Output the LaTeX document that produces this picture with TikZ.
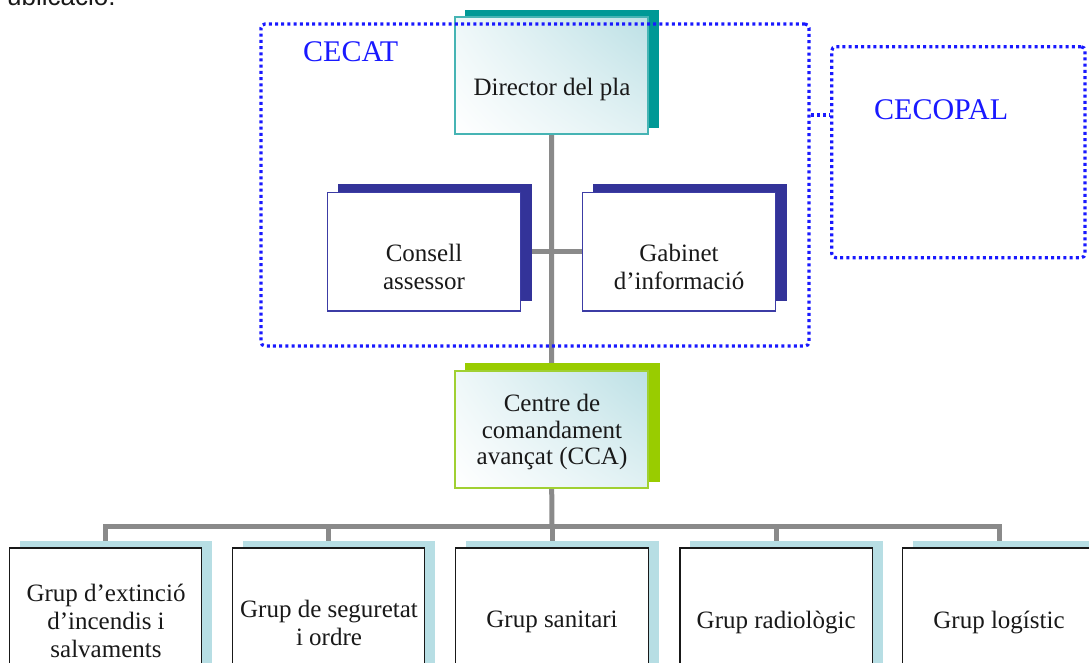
\documentclass[tikz,border=0pt]{standalone}
\usepackage{fontspec}
\setmainfont{Liberation Serif}
\newfontfamily\sansf{Liberation Sans}
\usetikzlibrary{calc,shadings}
\definecolor{cgray}{RGB}{138,138,138}
\definecolor{cblue}{RGB}{25,25,255}
\definecolor{tealsh}{RGB}{0,153,150}
\definecolor{tealbd}{RGB}{70,180,180}
\definecolor{navysh}{RGB}{51,51,153}
\definecolor{navybd}{RGB}{60,60,165}
\definecolor{greensh}{RGB}{153,204,0}
\definecolor{greenbd}{RGB}{160,208,50}
\definecolor{ltbluesh}{RGB}{183,222,228}
\definecolor{grad}{RGB}{188,224,229}
\definecolor{ctext}{RGB}{25,25,25}
\pgfdeclarelayer{connl}
\pgfdeclarelayer{shadl}
\pgfsetlayers{connl,shadl,main}
\begin{document}
\begin{tikzpicture}[x=1pt,y=-1pt,
  conn/.style={draw=cgray, line width=5pt},
  dotbox/.style={draw=cblue, line width=3.2pt, dash pattern=on 3pt off 3.2pt, rounded corners=4pt, rectangle, inner sep=0pt},
  dotline/.style={draw=cblue, line width=3.2pt, dash pattern=on 3pt off 3.2pt},
  box/.style={rectangle, inner sep=0pt, minimum width=193pt, minimum height=117pt},
  gradbox/.style={upper right=grad, lower right=grad!45!white, upper left=grad!25!white, lower left=white},
  dirbox/.style={box, gradbox, draw=tealbd, line width=1.8pt},
  bluebox/.style={box, fill=white, draw=navybd, line width=1.3pt, minimum width=193.4pt, minimum height=118.3pt},
  ccabox/.style={box, gradbox, draw=greenbd, line width=1.8pt, minimum height=117.6pt},
  grpbox/.style={box, fill=white, draw=ctext, line width=1.4pt, minimum width=192.5pt, minimum height=144pt},
  txt/.style={font=\fontsize{25}{28}\selectfont, align=center, text=ctext, inner sep=0pt},
  lab/.style={font=\fontsize{30}{34}\selectfont, text=cblue, inner sep=0pt, anchor=west}
]
\useasboundingbox (0,0) rectangle (1089,662);
\clip (0,0) rectangle (1089,662);

% top cut text
\node[anchor=base west, font=\sansf\fontsize{26}{30}\selectfont, inner sep=0pt, text=ctext] (pub) at (7,5) {ublicació.};

% boxes
\node[dirbox] (dir) at (551.5,75.5) {};
\node[bluebox] (cons) at (424,251.8) {};
\node[bluebox] (gab) at (678.9,251.8) {};
\node[ccabox] (cca) at (551.7,429.5) {};
\node[grpbox] (g1) at (105.5,620) {};
\node[grpbox] (g2) at (328.5,620) {};
\node[grpbox] (g3) at (552,620) {};
\node[grpbox] (g4) at (776.2,620) {};
\node[grpbox] (g5) at (999,620) {};

% shadows
\begin{pgfonlayer}{shadl}
\fill[tealsh] ($(dir.north west)+(11,-6)$) rectangle ($(dir.south east)+(10,-7)$);
\fill[navysh] ($(cons.north west)+(11,-8.4)$) rectangle ($(cons.south east)+(10.3,-11)$);
\fill[navysh] ($(gab.north west)+(11,-8.4)$) rectangle ($(gab.south east)+(10.3,-11)$);
\fill[greensh] ($(cca.north west)+(11,-6.7)$) rectangle ($(cca.south east)+(10.7,-7.3)$);
\foreach \g in {g1,g2,g3,g4,g5}
  \fill[ltbluesh] ($(\g.north west)+(11,-6)$) rectangle ($(\g.south east)+(10,-6)$);
\end{pgfonlayer}

% connectors
\coordinate (bus) at (552,526);
\begin{pgfonlayer}{connl}
\draw[conn] (dir.south) -- (cca.north);
\draw[conn] (cons.east) -- (gab.west);
\draw[conn] (cca.south) -- (bus);
\foreach \g in {g1,g2,g3,g4,g5}
  \draw[conn] (bus) -| (\g.north);
\end{pgfonlayer}

% texts
\node[txt] (dirT) at (552,89) {Director del pla};
\node[txt] (consT) at (424,267) {Consell\\assessor};
\node[txt] (gabT) at (679,267) {Gabinet\\d’informació};
\node[txt, font=\fontsize{25}{26.5}\selectfont] (ccaT) at (552,432) {Centre de\\comandament\\avançat (CCA)};
\node[txt] (g1T) at (106,620.5) {Grup d’extinció\\d’incendis i\\salvaments};
\node[txt] (g2T) at (329,622.5) {Grup de seguretat\\i ordre};
\node[txt] (g3T) at (552,622) {Grup sanitari};
\node[txt] (g4T) at (776.2,622) {Grup radiològic};
\node[txt] (g5T) at (999,622) {Grup logístic};

% dotted groups
\node[dotbox, minimum width=548pt, minimum height=322pt] (cecat) at (535,185) {};
\node[dotbox, minimum width=253.3pt, minimum height=211pt] (cecopal) at (958.4,152.2) {};
\coordinate (lk) at (820,115);
\draw[dotline] (cecat.east |- lk) -- (cecopal.west |- lk);
\node[lab] (cecatL) at (303,52) {CECAT};
\node[lab] (cecopalL) at (874,110) {CECOPAL};
\end{tikzpicture}
\end{document}
